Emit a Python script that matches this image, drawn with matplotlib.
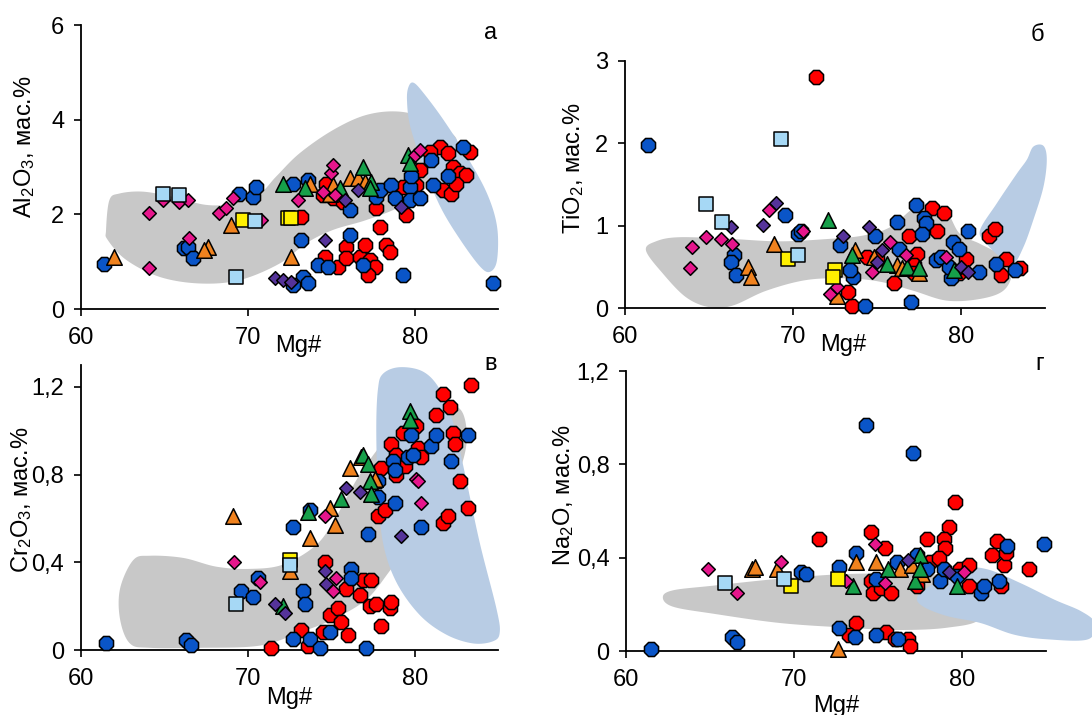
import numpy as np
import matplotlib
matplotlib.use("Agg")
import matplotlib.pyplot as plt
from matplotlib.patches import Polygon

plt.rcParams['font.family'] = ['Liberation Sans', 'DejaVu Sans']
plt.rcParams['mathtext.fontset'] = 'custom'
plt.rcParams['mathtext.rm'] = 'Liberation Sans'
plt.rcParams['mathtext.it'] = 'Liberation Sans:italic'
plt.rcParams['mathtext.default'] = 'regular'

# ---------------- DATA (Mg#, oxide wt.%) ----------------
# Panel а: Al2O3
A_BLUE = [(61.4,0.96),(66.2,1.28),(66.4,1.32),(66.7,1.07),(69.5,2.44),(70.3,2.37),(70.5,2.58),
          (72.7,2.65),(73.6,2.72),(73.2,1.46),(73.3,0.68),(72.7,0.50),(73.6,0.54),(74.2,0.93),
          (74.8,0.89),(76.1,2.09),(76.1,1.56),(76.9,0.93),(77.7,2.37),(77.9,2.51),(78.6,2.62),
          (78.8,2.34),(79.7,2.58),(79.8,2.80),(79.7,2.30),(80.3,2.34),(79.3,0.72),(81.0,3.15),
          (81.1,2.62),(82.0,2.80),(82.9,3.43),(84.7,0.54)]
A_RED = [(73.2,1.95),(74.6,1.10),(75.4,0.89),(75.9,1.32),(75.9,1.07),(76.7,1.10),(77.0,1.35),
         (77.3,1.03),(77.6,0.89),(77.2,0.72),(77.9,1.74),(78.3,1.35),(78.5,1.21),(77.7,2.13),
         (79.5,1.99),(74.5,2.41),(75.1,2.34),(75.7,2.27),(74.7,2.65),(79.3,2.58),(80.1,2.62),
         (80.3,2.94),(81.5,3.43),(82.0,3.29),(81.7,2.51),(82.2,2.44),(82.3,3.00),(82.7,2.87),
         (83.1,2.83),(83.3,3.32),(80.9,3.32),(82.5,2.65)]
A_GREEN = [(72.1,2.65),(73.4,2.55),(75.5,2.55),(76.9,3.00),(77.4,2.69),(77.3,2.55),(79.6,3.25),(79.7,3.08)]
A_ORANGE = [(62.0,1.10),(67.6,1.32),(67.4,1.25),(69.0,1.77),(72.6,1.10),(73.7,2.65),(74.9,2.44),
            (75.1,2.62),(76.1,2.76),(76.6,2.76),(77.0,2.69)]
A_MAGENTA = [(64.1,2.02),(64.1,0.86),(64.9,2.30),(65.9,2.27),(66.4,2.30),(66.5,1.49),(68.3,2.02),
             (68.7,2.13),(69.1,2.34),(70.8,1.88),(73.0,2.30),(74.5,2.48),(75.2,2.41),(75.0,2.87),
             (75.1,3.04),(80.0,3.25),(80.3,3.36)]
A_PURPLE = [(71.6,0.65),(72.1,0.61),(72.6,0.58),(74.6,1.46),(75.8,2.30),(76.6,2.51),(79.2,2.16)]
A_LIGHTBLUE = [(64.9,2.44),(65.9,2.41),(69.3,0.68),(70.4,1.85)]
A_YELLOW = [(69.7,1.88),(72.4,1.92),(72.6,1.92)]
A_GREY_FIELD = [(61.5,1.67),(61.7,2.30),(62.3,2.44),(63.7,2.48),(65.5,2.37),(67.5,2.20),(69.1,2.23),
                (70.7,2.44),(71.7,2.80),(73.1,3.29),(75.1,3.78),(77.1,4.10),(79.1,4.17),(80.9,3.99),
                (82.5,3.60),(81.9,3.20),(80.7,2.58),(79.1,2.16),(77.1,1.88),(75.1,1.67),(73.5,1.39),
                (71.9,0.96),(69.5,0.61),(67.1,0.54),(64.7,0.68),(62.7,1.04),(61.6,1.46)]
A_BLUE_FIELD = [(79.64,4.70),(79.94,4.78),(80.54,4.56),(81.74,3.99),(83.14,3.22),(84.34,2.44),
                (84.94,1.74),(84.94,1.04),(84.54,0.79),(83.94,0.89),(82.74,1.46),(81.54,2.16),
                (80.54,3.01),(79.74,3.85),(79.54,4.42)]

# Panel б: TiO2
B_BLUE = [(61.4,1.98),(69.5,1.13),(70.3,0.90),(70.5,0.94),(66.5,0.64),(66.3,0.56),(66.6,0.40),
          (72.8,0.76),(73.6,0.38),(73.4,0.46),(74.3,0.03),(74.9,0.88),(76.2,1.05),(76.3,0.72),
          (77.0,0.07),(77.3,1.25),(77.8,1.09),(77.9,1.03),(77.7,0.90),(78.5,0.58),(78.8,0.62),
          (79.4,0.36),(79.3,0.50),(79.5,0.80),(79.9,0.72),(80.4,0.94),(81.1,0.44),(82.1,0.54),(83.2,0.46)]
B_RED = [(71.4,2.81),(73.5,0.03),(73.3,0.19),(76.0,0.30),(74.4,0.62),(75.0,0.60),(76.9,0.88),
         (77.4,0.66),(77.2,0.52),(78.3,1.21),(79.0,1.15),(78.6,0.94),(81.7,0.88),(82.0,0.96),
         (80.3,0.60),(82.4,0.40),(82.7,0.60),(83.5,0.48),(77.2,0.42),(79.9,0.42)]
B_GREEN = [(72.1,1.07),(73.5,0.64),(75.6,0.54),(76.8,0.50),(77.5,0.48),(79.6,0.46)]
B_ORANGE = [(68.9,0.78),(67.3,0.50),(67.5,0.38),(72.6,0.15),(74.8,0.62),(76.2,0.52),(76.5,0.48),
            (77.5,0.42),(73.7,0.70)]
B_MAGENTA = [(64.0,0.74),(64.8,0.86),(63.9,0.48),(65.7,0.84),(66.4,0.78),(68.6,1.19),(70.6,0.94),
             (72.2,0.17),(72.6,0.26),(74.7,0.44),(75.8,0.80),(76.7,0.64),(79.1,0.62)]
B_PURPLE = [(66.3,0.98),(68.2,1.01),(69.0,1.27),(73.0,0.88),(74.5,0.98),(75.3,0.70),(75.0,0.56),
            (80.0,0.50),(80.4,0.44)]
B_LIGHTBLUE = [(64.8,1.26),(65.8,1.05),(69.3,2.05),(70.3,0.64)]
B_YELLOW = [(69.7,0.60),(72.5,0.46),(72.4,0.38)]
B_GREY_FIELD = [(61.25,0.70),(61.85,0.81),(63.24,0.86),(66.22,0.84),(69.2,0.81),(72.19,0.84),
                (74.17,0.88),(75.77,0.98),(77.16,1.21),(78.15,1.27),(79.15,1.17),(79.94,0.90),
                (81.13,0.78),(82.52,0.62),(83.02,0.42),(82.52,0.21),(81.13,0.11),(79.15,0.09),
                (77.16,0.21),(75.17,0.32),(73.18,0.36),(70.8,0.34),(68.41,0.21),(66.42,0.03),
                (65.03,0.01),(63.64,0.13),(62.25,0.42)]
B_BLUE_FIELD = [(81.13,0.94),(82.13,1.27),(83.32,1.63),(83.92,1.80),(84.31,1.96),(84.91,1.97),
                (85.11,1.80),(84.91,1.47),(84.31,1.07),(83.72,0.74),(83.12,0.54),(82.33,0.62),(81.53,0.78)]

# Panel в: Cr2O3
C_BLUE = [(61.5,0.03),(66.3,0.045),(66.6,0.023),(70.6,0.33),(69.6,0.27),(70.3,0.24),(72.7,0.56),
          (73.7,0.64),(73.3,0.27),(73.4,0.21),(72.7,0.05),(73.7,0.05),(74.3,0.01),(74.9,0.08),
          (76.2,0.37),(76.2,0.33),(77.2,0.53),(77.1,0.01),(77.8,0.77),(77.8,0.70),(78.7,0.86),
          (78.8,0.82),(78.8,0.67),(79.6,0.88),(79.9,0.89),(79.8,0.98),(80.4,0.56),(81.0,0.93),
          (81.3,0.98),(82.2,0.86),(83.2,0.98)]
C_RED = [(71.4,0.01),(73.2,0.09),(73.6,0.02),(74.6,0.40),(74.9,0.16),(75.4,0.19),(75.6,0.13),
         (76.0,0.07),(74.5,0.08),(75.9,0.28),(76.7,0.25),(76.9,0.32),(77.4,0.32),(77.3,0.20),
         (77.7,0.21),(78.0,0.11),(78.5,0.19),(78.6,0.22),(77.8,0.61),(78.2,0.64),(78.6,0.94),
         (78.9,0.89),(78.9,0.80),(79.4,0.84),(79.3,0.99),(80.1,1.02),(80.2,0.92),(80.4,0.88),
         (78.0,0.83),(81.3,1.07),(81.7,1.17),(82.1,1.11),(82.3,0.99),(82.4,0.94),(81.7,0.58),
         (82.0,0.61),(82.7,0.77),(83.2,0.65),(83.4,1.21)]
C_GREEN = [(73.6,0.63),(75.6,0.69),(76.9,0.89),(77.2,0.85),(77.3,0.77),(77.4,0.71),(79.7,1.09),
           (79.7,1.05),(72.1,0.20)]
C_ORANGE = [(69.1,0.61),(73.7,0.51),(74.9,0.65),(75.2,0.57),(76.1,0.83),(76.8,0.88),(77.6,0.78),(72.5,0.36)]
C_MAGENTA = [(69.2,0.40),(70.7,0.31),(74.6,0.61),(75.1,0.27),(75.3,0.33),(80.1,0.78),(80.2,0.77),(80.4,0.67)]
C_PURPLE = [(71.6,0.21),(72.2,0.17),(74.6,0.36),(74.7,0.30),(75.9,0.74),(76.7,0.72),(79.2,0.52)]
C_LIGHTBLUE = [(69.3,0.21),(72.5,0.39)]
C_YELLOW = [(72.5,0.41)]
C_GREY_FIELD = [(62.93,0.03),(62.34,0.14),(62.34,0.28),(63.13,0.41),(64.13,0.43),(66.13,0.42),
                (68.12,0.38),(70.12,0.37),(72.12,0.39),(74.11,0.48),(75.31,0.61),(76.71,0.80),
                (78.5,0.98),(80.3,1.08),(81.9,1.12),(82.89,1.08),(83.09,0.93),(82.3,0.75),
                (80.9,0.61),(79.7,0.49),(78.5,0.36),(77.1,0.23),(75.11,0.14),(73.11,0.08),
                (70.72,0.02),(67.13,0.01),(64.13,0.01)]
C_BLUE_FIELD = [(77.8,1.19),(78.1,1.26),(79.1,1.29),(80.5,1.27),(81.5,1.19),(82.3,1.04),(83.0,0.81),
                (83.9,0.49),(84.9,0.19),(85.1,0.08),(84.7,0.04),(83.5,0.03),(81.9,0.07),(80.3,0.16),
                (78.9,0.31),(78.1,0.49),(77.8,0.73),(77.7,1.01)]

# Panel г: Na2O
D_BLUE = [(61.5,0.01),(66.3,0.06),(66.6,0.04),(70.4,0.34),(70.7,0.33),(74.3,0.97),(77.1,0.85),
          (72.7,0.36),(73.7,0.42),(72.7,0.10),(73.6,0.06),(74.9,0.07),(76.2,0.05),(74.9,0.31),
          (76.1,0.38),(77.3,0.41),(77.9,0.35),(78.7,0.30),(78.9,0.35),(79.7,0.32),(81.1,0.25),
          (81.3,0.28),(82.2,0.30),(82.7,0.45),(84.9,0.46)]
D_RED = [(71.5,0.48),(74.6,0.51),(75.4,0.44),(74.6,0.30),(74.7,0.25),(75.2,0.27),(75.8,0.25),
         (73.7,0.12),(73.3,0.07),(75.5,0.08),(76.0,0.05),(76.8,0.05),(76.9,0.02),(79.6,0.64),
         (79.2,0.53),(78.9,0.48),(79.0,0.44),(77.9,0.48),(78.1,0.38),(78.6,0.40),(79.9,0.35),
         (80.4,0.37),(80.4,0.28),(82.1,0.47),(81.8,0.41),(82.5,0.37),(82.6,0.42),(84.0,0.35),
         (82.3,0.28),(77.3,0.28)]
D_GREEN = [(73.5,0.28),(75.6,0.35),(77.2,0.30),(77.5,0.41),(77.5,0.35),(79.7,0.28)]
D_ORANGE = [(67.5,0.35),(67.7,0.36),(69.0,0.35),(72.6,0.01),(73.7,0.38),(74.9,0.38),(76.3,0.35),
            (77.0,0.37),(77.6,0.33)]
D_MAGENTA = [(64.9,0.35),(66.6,0.25),(69.2,0.38),(74.8,0.46),(75.4,0.29),(73.1,0.30),(80.1,0.34)]
D_PURPLE = [(76.8,0.39),(79.2,0.34)]
D_LIGHTBLUE = [(65.9,0.29),(69.4,0.31)]
D_YELLOW = [(69.8,0.28),(72.6,0.31)]
D_GREY_FIELD = [(62.19,0.23),(62.79,0.26),(65.18,0.28),(69.16,0.31),(73.15,0.33),(77.13,0.33),
                (80.12,0.32),(81.31,0.27),(81.12,0.14),(79.12,0.10),(76.14,0.09),(73.15,0.10),
                (69.16,0.12),(65.18,0.16),(62.79,0.19)]
D_BLUE_FIELD = [(77.33,0.23),(78.13,0.28),(80.12,0.35),(81.51,0.35),(83.51,0.29),(85.5,0.22),
                (87.1,0.17),(87.9,0.12),(87.5,0.05),(85.1,0.05),(83.1,0.07),(81.1,0.12),
                (79.1,0.15),(77.7,0.19)]

X_TICKS = [60, 70, 80]
A_YTICKS = [0, 2, 4, 6]
B_YTICKS = [0, 1, 2, 3]
C_YTICKS = [0, 0.4, 0.8, 1.2]
C_YTICKLABELS = ['0', '0,4', '0,8', '1,2']
D_YTICKS = [0, 0.4, 0.8, 1.2]
D_YTICKLABELS = ['0', '0,4', '0,8', '1,2']

# ---------------- STYLE ----------------
FS = 17
STYLE = {
    'red':       dict(marker='8', color='#ff0000', s=120),
    'blue':      dict(marker='8', color='#0a55c8', s=120),
    'orange':    dict(marker='^', color='#f0821e', s=125),
    'green':     dict(marker='^', color='#16a04a', s=125),
    'purple':    dict(marker='D', color='#55339a', s=48),
    'magenta':   dict(marker='D', color='#e6168c', s=48),
    'yellow':    dict(marker='s', color='#fff000', s=98),
    'lightblue': dict(marker='s', color='#a6d8f5', s=98),
}
ORDER = ['red', 'blue', 'orange', 'green', 'purple', 'magenta', 'yellow', 'lightblue']


def smooth_closed(pts, n=14):
    P = np.asarray(pts, float)
    N = len(P)
    out = []
    for i in range(N):
        p0, p1, p2, p3 = P[(i - 1) % N], P[i], P[(i + 1) % N], P[(i + 2) % N]
        for t in np.linspace(0, 1, n, endpoint=False):
            t2, t3 = t * t, t * t * t
            out.append(0.5 * (2 * p1 + (-p0 + p2) * t + (2 * p0 - 5 * p1 + 4 * p2 - p3) * t2
                              + (-p0 + 3 * p1 - 3 * p2 + p3) * t3))
    return np.array(out)


fig = plt.figure(figsize=(10.92, 7.15), dpi=100)

panels = [
    dict(rect=[0.0742, 0.5678, 0.3819, 0.3972], ylim=(0, 6), yticks=A_YTICKS, yticklabels=None,
         ylabel='Al$_2$O$_3$, мас.%', ylab=(-0.135, 0.57), letter='а', let=(0.983, 0.972),
         series=dict(red=A_RED, blue=A_BLUE, orange=A_ORANGE, green=A_GREEN, purple=A_PURPLE,
                     magenta=A_MAGENTA, yellow=A_YELLOW, lightblue=A_LIGHTBLUE),
         grey=A_GREY_FIELD, bluef=A_BLUE_FIELD, xlab=(0.52, -0.13)),
    dict(rect=[0.5723, 0.5692, 0.3846, 0.3455], ylim=(0, 3), yticks=B_YTICKS, yticklabels=None,
         ylabel='TiO$_2$, мас.%', ylab=(-0.122, 0.567), letter='б', let=(0.981, 1.105),
         series=dict(red=B_RED, blue=B_BLUE, orange=B_ORANGE, green=B_GREEN, purple=B_PURPLE,
                     magenta=B_MAGENTA, yellow=B_YELLOW, lightblue=B_LIGHTBLUE),
         grey=B_GREY_FIELD, bluef=B_BLUE_FIELD, xlab=(0.52, -0.15)),
    dict(rect=[0.0742, 0.0909, 0.3819, 0.3986], ylim=(0, 1.3), yticks=C_YTICKS, yticklabels=C_YTICKLABELS,
         ylabel='Cr$_2$O$_3$, мас.%', ylab=(-0.142, 0.526), letter='в', let=(0.981, 1.0035),
         series=dict(red=C_RED, blue=C_BLUE, orange=C_ORANGE, green=C_GREEN, purple=C_PURPLE,
                     magenta=C_MAGENTA, yellow=C_YELLOW, lightblue=C_LIGHTBLUE),
         grey=C_GREY_FIELD, bluef=C_BLUE_FIELD, xlab=(0.5, -0.168)),
    dict(rect=[0.5733, 0.0895, 0.3846, 0.3916], ylim=(0, 1.2), yticks=D_YTICKS, yticklabels=D_YTICKLABELS,
         ylabel='Na$_2$O, мас.%', ylab=(-0.148, 0.557), letter='г', let=(0.986, 1.025),
         series=dict(red=D_RED, blue=D_BLUE, orange=D_ORANGE, green=D_GREEN, purple=D_PURPLE,
                     magenta=D_MAGENTA, yellow=D_YELLOW, lightblue=D_LIGHTBLUE),
         grey=D_GREY_FIELD, bluef=D_BLUE_FIELD, xlab=(0.5, -0.195)),
]

for p in panels:
    ax = fig.add_axes(p['rect'])
    ax.set_xlim(60, 85)
    ax.set_ylim(*p['ylim'])
    ax.patch.set_alpha(0)
    for side in ('top', 'right'):
        ax.spines[side].set_visible(False)
    for side in ('left', 'bottom'):
        ax.spines[side].set_linewidth(1.3)
    ax.set_xticks(X_TICKS)
    ax.set_yticks(p['yticks'])
    if p['yticklabels'] is not None:
        ax.set_yticklabels(p['yticklabels'])
    ax.tick_params(direction='out', length=5, width=1.2, labelsize=FS)
    ax.tick_params(axis='x', pad=8)
    ax.tick_params(axis='y', pad=7)

    g = Polygon(smooth_closed(p['grey']), closed=True, facecolor='#c8c8c8', edgecolor='none',
                zorder=1, clip_on=False)
    ax.add_patch(g)
    b = Polygon(smooth_closed(p['bluef']), closed=True, facecolor='#b8cce4', edgecolor='none',
                zorder=1.1, clip_on=False)
    ax.add_patch(b)

    for i, name in enumerate(ORDER):
        pts = p['series'][name]
        if not pts:
            continue
        xs, ys = zip(*pts)
        st = STYLE[name]
        ax.scatter(xs, ys, marker=st['marker'], s=st['s'], facecolor=st['color'],
                   edgecolor='black', linewidth=1.1, zorder=3 + i, clip_on=False)

    ax.set_ylabel(p['ylabel'], fontsize=FS, va='center')
    ax.yaxis.set_label_coords(*p['ylab'])
    ax.set_xlabel('Mg#', fontsize=FS, va='center')
    ax.xaxis.set_label_coords(*p['xlab'])
    ax.text(p['let'][0], p['let'][1], p['letter'], transform=ax.transAxes, fontsize=FS,
            ha='center', va='center')

fig.savefig('out.png', dpi=100)
